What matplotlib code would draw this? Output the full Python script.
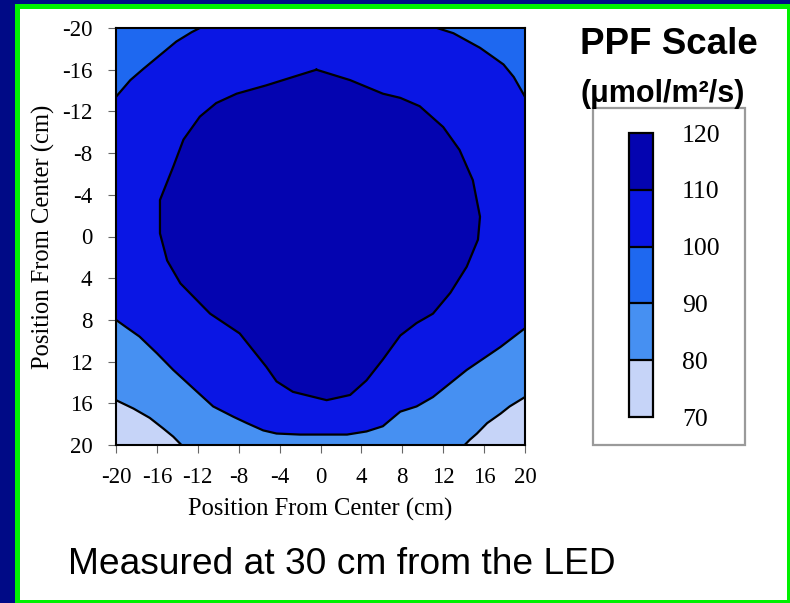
import matplotlib
matplotlib.use("Agg")
import matplotlib.pyplot as plt
from matplotlib.colors import ListedColormap, BoundaryNorm
from matplotlib.cm import ScalarMappable
from matplotlib.patches import Rectangle

plt.rcParams["axes.unicode_minus"] = False

# PPF contour levels (umol/m2/s) and the fill colour of each band
levels = [70, 80, 90, 100, 110, 120]
band_colors = ["#C6D4F8", "#4690F2", "#1E68F0", "#0A16E4", "#0404B0"]
ticks = list(range(-20, 21, 4))

# Isolines read as (x, y) positions in cm from the center
# 110 isoline: closed inner region (110-120)
iso110_x = [-0.4, 2.9, 6.1, 7.8, 9.7, 12.0, 13.6, 14.9, 15.6, 15.4, 14.3, 12.7,
            11.0, 9.4, 7.8, 6.1, 4.5, 2.9, 0.6, -2.7, -4.3, -5.3, -6.6, -7.9,
            -10.8, -12.1, -13.7, -15.0, -15.7, -15.7, -15.7, -14.4, -13.4,
            -11.8, -10.2, -8.2, -5.3, -2.7]
iso110_y = [-16.0, -15.0, -13.7, -13.3, -12.5, -10.5, -8.3, -5.4, -1.9, 0.3, 2.9, 5.4,
            7.4, 8.3, 9.5, 11.8, 13.8, 15.2, 15.7, 14.9, 13.9, 12.5, 10.9, 9.3,
            7.4, 6.1, 4.5, 2.3, -0.3, -1.9, -3.5, -6.7, -9.3,
            -11.5, -12.8, -13.7, -14.5, -15.3]

# 100 isolines cutting off the two upper corners (90-100)
iso100_tl_x = [-20.0, -18.6, -17.3, -15.7, -14.1, -12.6, -11.8]
iso100_tl_y = [-13.4, -15.0, -16.1, -17.4, -18.7, -19.6, -20.0]
iso100_tr_x = [11.4, 13.0, 14.3, 15.6, 16.9, 17.9, 18.9, 20.0]
iso100_tr_y = [-20.0, -19.5, -18.8, -18.1, -17.2, -16.5, -15.3, -13.4]

# Lower boundary of the 100-110 region; below it the 80-90 band
iso90_x = [-20.0, -19.0, -17.7, -16.0, -14.4, -12.4, -10.5, -8.5, -7.2, -5.6,
           -4.3, -2.0, 2.6, 4.5, 6.1, 7.8, 9.4, 11.0, 14.3, 17.6, 20.0]
iso90_y = [8.0, 8.7, 9.6, 11.2, 12.8, 14.6, 16.3, 17.3, 17.9, 18.6,
           18.9, 19.0, 19.0, 18.7, 18.2, 16.8, 16.3, 15.4, 12.8, 10.6, 8.8]

# 80 isolines around the two lower corners (70-80)
iso80_bl_x = [-20.0, -18.3, -16.7, -15.4, -14.4, -13.6]
iso80_bl_y = [15.7, 16.5, 17.4, 18.4, 19.2, 20.0]
iso80_br_x = [14.1, 14.6, 15.3, 16.3, 17.6, 18.5, 20.0]
iso80_br_y = [20.0, 19.5, 18.9, 17.9, 17.0, 16.3, 15.4]

W, H = 790, 603
fig = plt.figure(figsize=(W / 100, H / 100), dpi=100)
fig.patch.set_facecolor("#000A86")

def fig_rect(x0, y0, x1, y1, **kw):
    """Rectangle given in pixel coordinates measured from the top-left."""
    r = Rectangle((x0 / W, 1 - y1 / H), (x1 - x0) / W, (y1 - y0) / H,
                  transform=fig.transFigure, **kw)
    fig.add_artist(r)
    return r

# slide frame: green border around a white panel
fig_rect(15, 4, 790, 603, facecolor="#00F000", edgecolor="none", zorder=0)
fig_rect(20, 9, 786.5, 600, facecolor="white", edgecolor="none", zorder=0)

serif = "Liberation Serif"
sans = "Liberation Sans"

ax = fig.add_axes([116 / W, 1 - 445 / H, (525 - 116) / W, (445 - 28) / H])
ax.set_xlim(-20, 20)
ax.set_ylim(20, -20)
ax.set_facecolor(band_colors[3])

lw_iso = 1.6
# upper corners (90-100)
ax.fill(iso100_tl_x + [-20], iso100_tl_y + [-20], color=band_colors[2], lw=0)
ax.fill(iso100_tr_x + [20], iso100_tr_y + [-20], color=band_colors[2], lw=0)
# lower band (80-90)
ax.fill(iso90_x + [20, -20], iso90_y + [20, 20], color=band_colors[1], lw=0)
# lower corners (70-80)
ax.fill(iso80_bl_x + [-20], iso80_bl_y + [20], color=band_colors[0], lw=0)
ax.fill(iso80_br_x + [20], iso80_br_y + [20], color=band_colors[0], lw=0)
# central region (110-120)
ax.fill(iso110_x, iso110_y, color=band_colors[4], lw=0)

for xs, ys, closed in [(iso110_x, iso110_y, True),
                       (iso100_tl_x, iso100_tl_y, False),
                       (iso100_tr_x, iso100_tr_y, False),
                       (iso90_x, iso90_y, False),
                       (iso80_bl_x, iso80_bl_y, False),
                       (iso80_br_x, iso80_br_y, False)]:
    px, py = list(xs), list(ys)
    if closed:
        px.append(xs[0])
        py.append(ys[0])
    ax.plot(px, py, color="black", lw=lw_iso, solid_joinstyle="round")

ax.set_xticks(ticks)
ax.set_yticks(ticks)
ax.tick_params(direction="out", length=6, width=0.8, color="#666666",
               labelsize=16.5)
ax.tick_params(axis="x", pad=10)
ax.tick_params(axis="y", pad=11)
for lab in ax.get_xticklabels() + ax.get_yticklabels():
    lab.set_fontfamily(serif)
for s in ax.spines.values():
    s.set_linewidth(1.5)
    s.set_color("black")
    s.set_zorder(5)

ax.set_xlabel("Position From Center (cm)", fontsize=17.7, family=serif, labelpad=7)
ax.set_ylabel("Position From Center (cm)", fontsize=17.7, family=serif, labelpad=5)

# colour scale in its grey frame
fig_rect(593, 108, 745, 445, facecolor="white", edgecolor="#9A9A9A", lw=1.6, zorder=1)
cax = fig.add_axes([629 / W, 1 - 417 / H, (653 - 629) / W, (417 - 133) / H], zorder=2)
sm = ScalarMappable(norm=BoundaryNorm(levels, len(band_colors)),
                    cmap=ListedColormap(band_colors))
cb = fig.colorbar(sm, cax=cax, ticks=levels, drawedges=True)
cb.outline.set_linewidth(1.6)
cb.dividers.set_linewidth(1.6)
cb.dividers.set_color("black")
cax.tick_params(length=0, pad=21, labelsize=18.5)
for lab in cax.get_yticklabels():
    lab.set_fontfamily(serif)

fig.text(669 / W, 1 - 45 / H, "PPF Scale", ha="center", va="center",
         fontsize=26.5, fontweight="bold", family=sans)
fig.text(663 / W, 1 - 94 / H, "(\u03bcmol/m\u00b2/s)", ha="center", va="center",
         fontsize=22, fontweight="bold", family=sans)
fig.text(68 / W, 1 - 574 / H, "Measured at 30 cm from the LED", ha="left",
         va="baseline", fontsize=26.7, family=sans)

fig.savefig("out.png", dpi=100, facecolor=fig.get_facecolor())
